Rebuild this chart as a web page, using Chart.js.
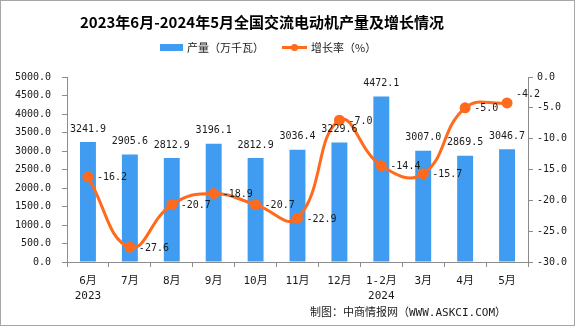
<!DOCTYPE html>
<html>
<head>
<meta charset="utf-8">
<script src="https://cdn.jsdelivr.net/npm/chart.js@4/dist/chart.umd.min.js"></script>
<style>
html,body{margin:0;padding:0;background:#fff;}
#wrap{width:575px;height:326px;position:relative;}
</style>
</head>
<body>
<div id="wrap"><canvas id="c" width="575" height="326"></canvas></div>
<script>
const titleText = '2023年6月-2024年5月全国交流电动机产量及增长情况';
const sourceText = '制图：中商情报网（WWW.ASKCI.COM）';
const months = ['6月','7月','8月','9月','10月','11月','12月','1-2月','3月','4月','5月'];
const years = ['2023','','','','','','','2024','','',''];
const outputName = '产量（万千瓦）';
const growthName = '增长率（%）';
const output = [3241.9, 2905.6, 2812.9, 3196.1, 2812.9, 3036.4, 3229.6, 4472.1, 3007.0, 2869.5, 3046.7];
const growth = [-16.2, -27.6, -20.7, -18.9, -20.7, -22.9, -7.0, -14.4, -15.7, -5.0, -4.2];

const BLUE = '#3f9cf0';
const ORANGE = '#ff6a1c';
const AXIS = '#8c8c8c';
const TXT = '#1a1a1a';
const NUMFONT = "10px 'DejaVu Sans Mono', monospace";
const CJK = "'Noto Sans CJK SC', 'DejaVu Sans', sans-serif";

const labels = months.map((m, i) => years[i] ? [m, years[i]] : m);

const decor = {
  id: 'decor',
  afterDatasetsDraw(chart) {
    const ctx = chart.ctx;
    ctx.save();
    ctx.font = NUMFONT;
    ctx.fillStyle = TXT;
    const mb = chart.getDatasetMeta(0);
    ctx.textAlign = 'center';
    ctx.textBaseline = 'middle';
    mb.data.forEach((el, i) => {
      ctx.fillText(output[i].toFixed(1), el.x, el.y - 13);
    });
    const ml = chart.getDatasetMeta(1);
    ctx.textAlign = 'left';
    ml.data.forEach((el, i) => {
      const dy = (i === ml.data.length - 1) ? -9 : 0;
      ctx.fillText(growth[i].toFixed(1), el.x + 9, el.y + 1 + dy);
    });
    ctx.restore();
  },
  afterDraw(chart) {
    const ctx = chart.ctx;
    ctx.save();
    ctx.fillStyle = '#000';
    ctx.font = "bold 15px " + CJK;
    ctx.textAlign = 'center';
    ctx.textBaseline = 'middle';
    ctx.fillText(titleText, 262, 22);
    ctx.fillStyle = BLUE;
    ctx.fillRect(160, 44, 23, 7);
    ctx.fillStyle = TXT;
    ctx.font = "11px " + CJK;
    ctx.textAlign = 'left';
    ctx.fillText(outputName, 187, 47.5);
    ctx.strokeStyle = ORANGE;
    ctx.lineWidth = 3;
    ctx.beginPath();
    ctx.moveTo(282, 47.5);
    ctx.lineTo(307, 47.5);
    ctx.stroke();
    ctx.fillStyle = ORANGE;
    ctx.beginPath();
    ctx.arc(294.5, 47.5, 3.5, 0, Math.PI * 2);
    ctx.fill();
    ctx.fillStyle = TXT;
    ctx.fillText(growthName, 311, 47.5);
    ctx.font = "11px 'DejaVu Sans Mono', 'Noto Sans CJK SC', monospace";
    ctx.textAlign = 'right';
    ctx.fillText(sourceText, 506, 313);
    ctx.strokeStyle = '#a6a6a6';
    ctx.lineWidth = 1;
    ctx.strokeRect(0.5, 0.5, 574, 325);
    ctx.restore();
  }
};

new Chart(document.getElementById('c'), {
  data: {
    labels: labels,
    datasets: [
      {
        type: 'bar',
        label: outputName,
        data: output,
        yAxisID: 'y',
        backgroundColor: BLUE,
        barPercentage: 0.38,
        categoryPercentage: 1.0,
        order: 1
      },
      {
        type: 'line',
        label: growthName,
        data: growth,
        yAxisID: 'y1',
        borderColor: ORANGE,
        backgroundColor: ORANGE,
        borderWidth: 3,
        pointRadius: 4,
        pointBackgroundColor: ORANGE,
        pointBorderColor: ORANGE,
        tension: 0.45,
        order: 0
      }
    ]
  },
  options: {
    responsive: false,
    animation: false,
    layout: { padding: { top: 77, left: 0, right: 0, bottom: 0 } },
    plugins: {
      legend: { display: false },
      title: { display: false },
      tooltip: { enabled: false }
    },
    scales: {
      x: {
        grid: { display: true, drawOnChartArea: false, drawTicks: true, tickLength: 5, color: AXIS, offset: true },
        border: { display: true, color: AXIS },
        ticks: { color: TXT, font: { family: "'DejaVu Sans Mono', 'Noto Sans CJK SC', monospace", size: 11, lineHeight: 1.4 }, padding: 6, maxRotation: 0, autoSkip: false },
        afterFit(s) { s.height = 64; }
      },
      y: {
        position: 'left',
        min: 0, max: 5000,
        ticks: { stepSize: 500, color: TXT, font: { family: "'DejaVu Sans Mono', monospace", size: 10 }, padding: 11, callback: v => Number(v).toFixed(1) },
        grid: { display: true, drawOnChartArea: false, drawTicks: true, tickLength: 5, color: AXIS },
        border: { display: true, color: AXIS },
        afterFit(s) { s.width = 67; }
      },
      y1: {
        position: 'right',
        min: -30, max: 0,
        ticks: { stepSize: 5, color: TXT, font: { family: "'DejaVu Sans Mono', monospace", size: 10 }, padding: 4, callback: v => Number(v).toFixed(1) },
        grid: { display: true, drawOnChartArea: false, drawTicks: true, tickLength: 5, color: AXIS },
        border: { display: true, color: AXIS },
        afterFit(s) { s.width = 47; }
      }
    }
  },
  plugins: [decor]
});
</script>
</body>
</html>
